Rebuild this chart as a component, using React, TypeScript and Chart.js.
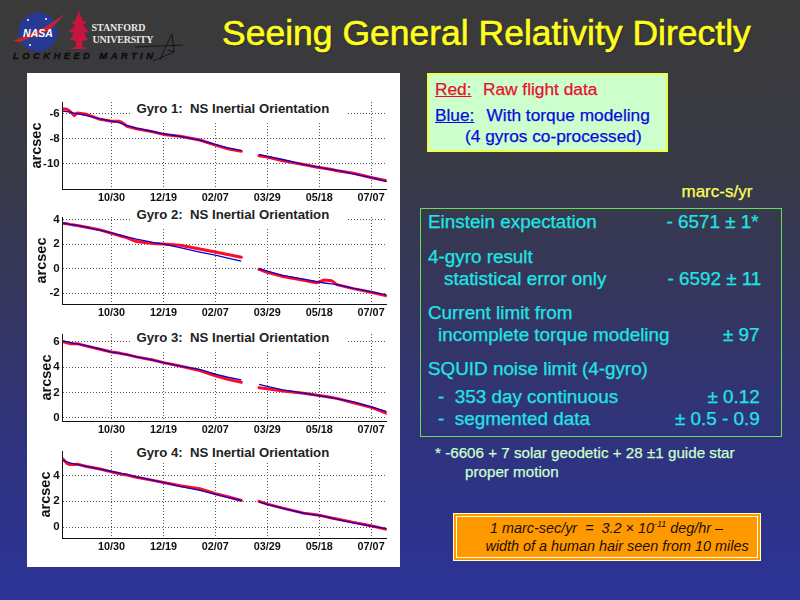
import { useEffect, useRef, type ReactNode } from "react";
import { Chart, registerables } from "chart.js";

Chart.register(...registerables);

const FONT = '"Liberation Sans", Arial, sans-serif';

// days from 10/30, the null row is the break in the flight data
const days = [
  -47, -43, -40, -36, -33, -24, -11, 0, 7, 10, 15, 24, 40, 50, 66, 85, 100, 112, 125, 133,
  142, 150, 165, 185, 197, 201, 205, 212, 217, 233, 251, 265,
];

const gyro1Red = [
  -5.6, -5.65, -5.8, -6.15, -5.95, -6.05, -6.45, -6.6, -6.6, -6.7, -7.0, -7.2, -7.45, -7.65, -7.8, -8.1, -8.5, -8.8, -9.0, null,
  -9.35, -9.45, -9.75, -10.05, -10.25, -10.3, -10.35, -10.45, -10.55, -10.75, -11.1, -11.35,
];
const gyro1Blue = [
  -5.8, -5.83, -5.88, -5.95, -6.0, -6.15, -6.42, -6.6, -6.72, -6.8, -6.95, -7.15, -7.42, -7.6, -7.8, -8.1, -8.45, -8.72, -8.95, null,
  -9.25, -9.4, -9.65, -10.05, -10.22, -10.27, -10.35, -10.45, -10.5, -10.8, -11.12, -11.4,
];
const gyro2Red = [
  3.7, 3.66, 3.6, 3.55, 3.5, 3.37, 3.15, 2.88, 2.7, 2.63, 2.5, 2.2, 2.05, 2.0, 1.9, 1.6, 1.35, 1.15, 0.92, null,
  -0.05, -0.3, -0.65, -0.95, -1.15, -1.05, -0.92, -0.98, -1.3, -1.63, -1.95, -2.22,
];
const gyro2Blue = [
  3.7, 3.65, 3.6, 3.55, 3.52, 3.35, 3.12, 2.9, 2.75, 2.68, 2.58, 2.4, 2.13, 2.0, 1.7, 1.35, 1.1, 0.85, 0.6, null,
  0, -0.2, -0.55, -0.85, -1.05, -1.12, -1.17, -1.25, -1.3, -1.6, -1.9, -2.15,
];
const gyro3Red = [
  6.0, 5.9, 5.84, 5.84, 5.84, 5.65, 5.4, 5.18, 5.1, 5.05, 4.98, 4.8, 4.55, 4.35, 4.08, 3.72, 3.32, 3.03, 2.8, null,
  2.38, 2.3, 2.12, 1.94, 1.8, 1.75, 1.7, 1.6, 1.54, 1.2, 0.81, 0.37,
];
const gyro3Blue = [
  6.05, 6.0, 5.95, 5.85, 5.82, 5.68, 5.42, 5.18, 5.1, 5.05, 4.98, 4.8, 4.55, 4.35, 4.08, 3.82, 3.45, 3.2, 3.0, null,
  2.64, 2.48, 2.2, 1.96, 1.78, 1.73, 1.68, 1.6, 1.5, 1.26, 0.86, 0.5,
];
const gyro4Red = [
  5.3, 4.95, 4.85, 4.85, 4.88, 4.7, 4.5, 4.28, 4.15, 4.1, 4.03, 3.87, 3.62, 3.46, 3.2, 2.97, 2.58, 2.35, 2.06, null,
  1.99, 1.78, 1.47, 1.08, 0.95, 0.9, 0.83, 0.7, 0.62, 0.36, 0.08, -0.18,
];
const gyro4Blue = [
  5.2, 5.05, 4.98, 4.9, 4.85, 4.7, 4.5, 4.31, 4.2, 4.15, 4.08, 3.9, 3.62, 3.46, 3.15, 2.84, 2.55, 2.3, 2.06, null,
  1.95, 1.75, 1.45, 1.07, 0.93, 0.88, 0.82, 0.7, 0.6, 0.33, 0.05, -0.13,
];

const xTickDays = [0, 50, 100, 150, 200, 250];
const xTickLabels = ["10/30", "12/19", "02/07", "03/29", "05/18", "07/07"];

const gyro1Ticks = [-10, -8, -6];
const gyro2Ticks = [-2, 0, 2, 4];
const gyro3Ticks = [0, 2, 4, 6];
const gyro4Ticks = [0, 2, 4];

function toPoints(values: (number | null)[]) {
  return values.map((y, i) => ({ x: days[i], y }));
}

function GyroChart({
  title,
  red,
  blue,
  yTicks,
  yMin,
  yMax,
  plotTop,
  titleTop,
  maskHeight,
  maskTop,
  arcsecPad,
}: {
  title: string;
  red: (number | null)[];
  blue: (number | null)[];
  yTicks: number[];
  yMin: number;
  yMax: number;
  plotTop: number;
  titleTop: number;
  maskTop: number;
  maskHeight: number;
  arcsecPad: number;
}) {
  const canvasRef = useRef<HTMLCanvasElement>(null);

  useEffect(() => {
    if (!canvasRef.current) return;
    const tickFont = { family: FONT, size: 10.8, weight: "bold" as const };
    const chart = new Chart(canvasRef.current, {
      type: "line",
      data: {
        datasets: [
          {
            data: toPoints(red),
            borderColor: "#ff0a2a",
            borderWidth: 3,
            pointRadius: 0,
            borderCapStyle: "round",
            borderJoinStyle: "round",
            spanGaps: false,
            order: 2,
          },
          {
            data: toPoints(blue),
            borderColor: "#1000c8",
            borderWidth: 1.3,
            pointRadius: 0,
            spanGaps: false,
            order: 1,
          },
        ],
      },
      options: {
        responsive: false,
        animation: false,
        layout: { padding: { top: 10, right: 13.3, bottom: 0, left: 0 } },
        plugins: { legend: { display: false }, tooltip: { enabled: false } },
        scales: {
          x: {
            type: "linear",
            min: -47,
            max: 265,
            afterBuildTicks: (s) => {
              s.ticks = xTickDays.map((value) => ({ value }));
            },
            afterFit: (s) => {
              s.height = 22;
            },
            grid: { color: "#555", drawTicks: false },
            border: { color: "#111", dash: [1, 2], width: 1 },
            ticks: {
              color: "#111",
              font: tickFont,
              padding: 3,
              maxRotation: 0,
              autoSkip: false,
              callback: (v) => xTickLabels[xTickDays.indexOf(Number(v))],
            },
          },
          y: {
            min: yMin,
            max: yMax,
            afterBuildTicks: (s) => {
              s.ticks = yTicks.map((value) => ({ value }));
            },
            afterFit: (s) => {
              s.width = 35.7;
            },
            grid: { color: "#555", drawTicks: false },
            border: { color: "#111", dash: [1, 2], width: 1 },
            ticks: { color: "#111", font: { ...tickFont, size: 11.5 }, padding: 3 },
            title: {
              display: true,
              text: "arcsec",
              color: "#111",
              font: { family: FONT, size: 14.5, weight: "bold" },
              padding: { top: arcsecPad, bottom: 0 },
            },
          },
        },
      },
    });
    return () => chart.destroy();
  }, [red, blue, yTicks, yMin, yMax, arcsecPad]);

  return (
    <>
      <canvas
        ref={canvasRef}
        width={373}
        height={119}
        style={{ position: "absolute", left: 27, top: plotTop - 10, width: 373, height: 119 }}
      />
      <div style={{ position: "absolute", left: 130, top: maskTop, width: 218, height: maskHeight, background: "#fff" }} />
      <div
        style={{
          position: "absolute",
          left: 136.5,
          top: titleTop,
          fontFamily: FONT,
          fontSize: 13.2,
          fontWeight: "bold",
          color: "#222",
          whiteSpace: "pre",
          lineHeight: "14px",
        }}
      >
        {title}
      </div>
    </>
  );
}

function Line({
  x,
  cy,
  size = 18.85,
  color = "#1fe6e6",
  children,
  style,
}: {
  x: number;
  cy: number;
  size?: number;
  color?: string;
  children: ReactNode;
  style?: React.CSSProperties;
}) {
  return (
    <div
      style={{
        position: "absolute",
        left: x,
        top: cy - 12,
        lineHeight: "24px",
        fontFamily: FONT,
        fontSize: size,
        color,
        whiteSpace: "pre",
        WebkitTextStroke: `0.25px ${color}`,
        ...style,
      }}
    >
      {children}
    </div>
  );
}

function Logos() {
  return (
    <svg width="200" height="72" style={{ position: "absolute", left: 0, top: 0 }}>
      <circle cx="38" cy="32" r="19.5" fill="#263a94" />
      <path d="M13 41 L45 27 L65 14 L50 30 L20 42 Z" fill="#c4242c" />
      <circle cx="28" cy="20" r="1" fill="#fff" />
      <circle cx="46" cy="19" r="1" fill="#fff" />
      <circle cx="30" cy="45" r="1" fill="#fff" />
      <text x="38" y="37" textAnchor="middle" fontFamily={FONT} fontSize="10.5" fontWeight="bold" fontStyle="italic" fill="#fff">
        NASA
      </text>
      <path
        d="M79 11 L83 21 L87 22 L83 25 L89 32 L84 33 L88 40 L82 41 L82 46 L87 49 L71 49 L76 46 L76 41 L70 40 L74 33 L69 32 L75 25 L71 22 L75 21 Z"
        fill="#c6153f"
      />
      <text x="91.5" y="31" fontFamily='"Liberation Serif", serif' fontSize="10" fontWeight="bold" fill="#e8e8e0" textLength="54">
        STANFORD
      </text>
      <text x="92.5" y="42.5" fontFamily='"Liberation Serif", serif' fontSize="10" fontWeight="bold" fill="#e8e8e0" textLength="61">
        UNIVERSITY
      </text>
      <text x="13" y="59" fontFamily={FONT} fontSize="9.5" fontWeight="bold" fontStyle="italic" fill="#0c0c0c" stroke="#0c0c0c" strokeWidth="0.3" textLength="140">
        LOCKHEED MARTIN
      </text>
      <path d="M135 47 L183 45 M172 34 L166 46 L160 60 M172 34 L174 52 L168 50 M174 52 L153 61" stroke="#111" strokeWidth="0.9" fill="none" />
    </svg>
  );
}

export default function App() {
  return (
    <div
      style={{
        position: "absolute",
        left: 0,
        top: 0,
        width: 800,
        height: 600,
        overflow: "hidden",
        background: "linear-gradient(180deg, #3b3a39 0%, #383a46 28%, #35365f 50%, #2f3380 75%, #2b3396 100%)",
      }}
    >
      <Logos />
      <Line x={222} cy={33} size={35.5} color="#ffff1e" style={{ textShadow: "1px 1px 1px #222", WebkitTextStroke: "0.6px #ffff1e" }}>
        Seeing General Relativity Directly
      </Line>

      <div style={{ position: "absolute", left: 27, top: 73, width: 373, height: 494, background: "#fff" }} />
      <GyroChart title="Gyro 1:  NS Inertial Orientation" red={gyro1Red} blue={gyro1Blue} yTicks={gyro1Ticks} yMin={-12} yMax={-5.07} plotTop={101.7} titleTop={102} maskTop={100} maskHeight={22} arcsecPad={1} />
      <GyroChart title="Gyro 2:  NS Inertial Orientation" red={gyro2Red} blue={gyro2Blue} yTicks={gyro2Ticks} yMin={-2.88} yMax={4.2} plotTop={216.7} titleTop={208} maskTop={207} maskHeight={20} arcsecPad={6} />
      <GyroChart title="Gyro 3:  NS Inertial Orientation" red={gyro3Red} blue={gyro3Blue} yTicks={gyro3Ticks} yMin={-0.24} yMax={6.6} plotTop={334.3} titleTop={331} maskTop={330} maskHeight={20} arcsecPad={11} />
      <GyroChart title="Gyro 4:  NS Inertial Orientation" red={gyro4Red} blue={gyro4Blue} yTicks={gyro4Ticks} yMin={-0.85} yMax={5.9} plotTop={451} titleTop={446} maskTop={445} maskHeight={17} arcsecPad={10} />

      <div style={{ position: "absolute", left: 427, top: 73, width: 237, height: 75, background: "#ccffcc", border: "2px solid #eeff44" }} />
      <Line x={435} cy={89} size={17.3} color="#e8102e" style={{ textDecoration: "underline" }}>Red:</Line>
      <Line x={483} cy={89} size={17.3} color="#e8102e">Raw flight data</Line>
      <Line x={435} cy={115} size={17.3} color="#0a0adf" style={{ textDecoration: "underline" }}>Blue:</Line>
      <Line x={486.5} cy={115} size={17.3} color="#0a0adf">With torque modeling</Line>
      <Line x={465} cy={136} size={17.3} color="#0a0adf">(4 gyros co-processed)</Line>

      <Line x={681.5} cy={192} size={17} color="#ffff55">marc-s/yr</Line>
      <div style={{ position: "absolute", left: 420, top: 207.5, width: 360, height: 227, border: "1px solid #66e050" }} />

      <Line x={428} cy={222}>Einstein expectation</Line>
      <Line x={666.5} cy={222}>- 6571 ± 1*</Line>
      <Line x={428} cy={257}>4-gyro result</Line>
      <Line x={444} cy={279}>statistical error only</Line>
      <Line x={667.5} cy={279}>- 6592 ± 11</Line>
      <Line x={428} cy={313}>Current limit from</Line>
      <Line x={438} cy={335}>incomplete torque modeling</Line>
      <Line x={723} cy={335}>± 97</Line>
      <Line x={428} cy={369}>SQUID noise limit (4-gyro)</Line>
      <Line x={438} cy={397}>-  353 day continuous</Line>
      <Line x={707.5} cy={397}>± 0.12</Line>
      <Line x={438} cy={419}>-  segmented data</Line>
      <Line x={675} cy={419}>± 0.5 - 0.9</Line>

      <Line x={435} cy={453} size={15.2} color="#ccffcc">* -6606 + 7 solar geodetic + 28 ±1 guide star</Line>
      <Line x={465} cy={472} size={15.2} color="#ccffcc">proper motion</Line>

      <div style={{ position: "absolute", left: 453, top: 513, width: 306, height: 46, background: "#ff9900", border: "1px solid #ffffcc" }}>
        <div style={{ position: "absolute", left: 2, top: 2, right: 2, bottom: 2, border: "1px solid #ffffdd" }} />
      </div>
      <Line x={490} cy={528} size={14.4} color="#1a1008" style={{ fontStyle: "italic", WebkitTextStroke: "0" }}>
        1 marc-sec/yr  =  3.2 × 10<sup style={{ fontSize: 9, lineHeight: 0 }}>-11</sup> deg/hr –
      </Line>
      <Line x={485.5} cy={546} size={14.4} color="#1a1008" style={{ fontStyle: "italic", WebkitTextStroke: "0" }}>
        width of a human hair seen from 10 miles
      </Line>
    </div>
  );
}
